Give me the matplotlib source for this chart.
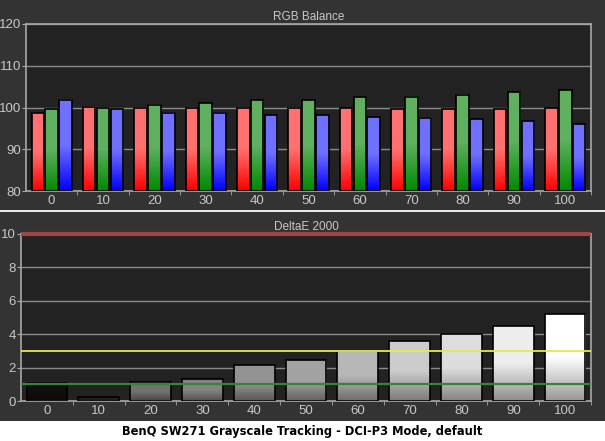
import matplotlib
matplotlib.use('Agg')
import matplotlib.pyplot as plt
import numpy as np
from matplotlib.colors import LinearSegmentedColormap

# Niveles de gris medidos
niveles = [0, 10, 20, 30, 40, 50, 60, 70, 80, 90, 100]

# Balance RGB (%)
rojo = [98.6, 100.2, 100.0, 100.0, 100.0, 100.0, 99.8, 99.6, 99.6, 99.6, 99.8]
verde = [99.6, 100.0, 100.7, 101.0, 101.7, 101.7, 102.4, 102.6, 103.1, 103.6, 104.1]
azul = [101.8, 99.6, 98.8, 98.8, 98.1, 98.1, 97.7, 97.5, 97.2, 96.7, 96.0]

# DeltaE 2000
delta_e = [1.06, 0.24, 1.12, 1.30, 2.14, 2.44, 3.0, 3.57, 3.99, 4.47, 5.19]

FONDO = '#333333'
AREA = '#222222'
TEXTO = '#c8c8c8'
EJE = '#a8a8a8'
FUENTE = ['Liberation Sans', 'DejaVu Sans']


def barra_degradado(ax, x, h, ancho, base, c_arriba, c_abajo):
	# barra con degradado vertical (claro arriba, oscuro abajo)
	cmap = LinearSegmentedColormap.from_list('g', [c_abajo, c_arriba, c_arriba])
	grad = np.linspace(1, 0, 64).reshape(-1, 1)
	ax.imshow(grad, cmap=cmap, vmin=0, vmax=1, aspect='auto',
		extent=(x - ancho / 2, x + ancho / 2, base, h), zorder=2, interpolation='bilinear')
	ax.bar(x, h - base, ancho, bottom=base, facecolor='none', edgecolor='black', linewidth=1.2, zorder=3)


def estilo(ax, titulo, ymin, ymax, paso):
	ax.set_facecolor(AREA)
	ax.set_xlim(-0.5, len(niveles) - 0.5)
	ax.set_ylim(ymin, ymax)
	ax.set_yticks(np.arange(ymin, ymax + 0.1, paso))
	ax.set_xticks(np.arange(len(niveles)))
	ax.set_xticklabels([str(n) for n in niveles])
	ax.set_xticks(np.arange(len(niveles)) + 0.5, minor=True)
	ax.tick_params(axis='x', which='major', length=0, colors=TEXTO, labelsize=9.5, pad=3)
	ax.tick_params(axis='x', which='minor', length=3, color=EJE, direction='out')
	ax.tick_params(axis='y', length=3, color=EJE, colors=TEXTO, labelsize=9.5, pad=0.5)
	for lab in ax.get_xticklabels() + ax.get_yticklabels():
		lab.set_family(FUENTE)
	for s in ax.spines.values():
		s.set_color(EJE)
		s.set_linewidth(1.2)
	ax.grid(axis='y', color='#8a8a8a', linewidth=1, zorder=1)
	ax.set_axisbelow(True)
	ax.set_title(titulo, color=TEXTO, fontsize=8.5, pad=3, family=FUENTE)


fig = plt.figure(figsize=(6.05, 4.41), dpi=100)
fig.patch.set_facecolor('white')
# fondo oscuro del panel
fig.patches.append(plt.Rectangle((0, 20 / 441), 1, 1, transform=fig.transFigure,
	facecolor=FONDO, zorder=-1))
fig.patches.append(plt.Rectangle((0, 229 / 441), 1, 2 / 441, transform=fig.transFigure,
	facecolor='#e8e8e8', zorder=-1))

# --- RGB Balance ---
ax1 = fig.add_axes([26 / 605, 250 / 441, 565 / 605, 167 / 441])
estilo(ax1, 'RGB Balance', 80, 120, 10)
w = 0.245
colores = [('#ff7070', '#ff0000'), ('#5fb05f', '#008a00'), ('#7070ff', '#0000ff')]
for i in range(len(niveles)):
	for j, serie in enumerate([rojo, verde, azul]):
		barra_degradado(ax1, i + (j - 1) * 0.27, serie[i], w, 80, colores[j][0], colores[j][1])

# --- DeltaE 2000 ---
ax2 = fig.add_axes([21 / 605, 40 / 441, 570 / 605, 167 / 441])
estilo(ax2, 'DeltaE 2000', 0, 10, 2)
grises = [0.06, 0.14, 0.45, 0.52, 0.58, 0.64, 0.72, 0.80, 0.87, 0.93, 1.0]
for i in range(len(niveles)):
	g = grises[i]
	barra_degradado(ax2, i, delta_e[i], 0.785, 0, (g, g, g), (g * 0.6, g * 0.6, g * 0.6))
ax2.axhline(10, color='#a04646', linewidth=3, zorder=4, clip_on=False, solid_capstyle='butt')
ax2.axhline(3, color='#e8e84a', linewidth=1.3, zorder=4)
ax2.axhline(1, color='#2f8a2f', linewidth=1.6, zorder=4)

fig.text(0.5, 10 / 441, 'BenQ SW271 Grayscale Tracking - DCI-P3 Mode, default',
	ha='center', va='center', fontsize=8.3, fontweight='bold', color='black')

plt.savefig('out.png', dpi=100, facecolor=fig.get_facecolor())
